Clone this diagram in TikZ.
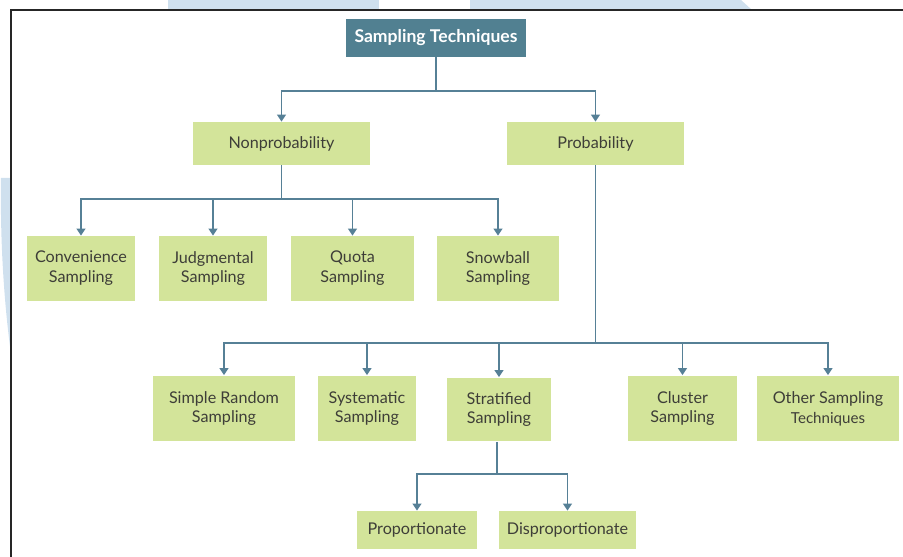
\documentclass[tikz,border=0pt]{standalone}
\usepackage{fontspec}
\setmainfont{Lato}
\usetikzlibrary{arrows.meta}
\definecolor{stteal}{RGB}{81,128,145}
\definecolor{stline}{RGB}{86,128,150}
\definecolor{stgreen}{RGB}{211,228,154}
\definecolor{sttext}{RGB}{62,62,56}
\definecolor{stwater}{RGB}{207,224,238}
\tikzset{
    basebox/.style={rectangle, inner sep=0pt, align=center, font=\fontsize{9.2}{11.3}\selectfont},
    rootbox/.style={basebox, fill=stteal, text=white, font=\fontsize{10}{12}\selectfont\bfseries},
    catbox/.style={basebox, fill=stgreen, text=sttext},
    link/.style={draw=stline, line width=0.9pt, -{Triangle[length=4pt,width=5pt]}}
}

\begin{document}
\begin{tikzpicture}[x=0.02cm, y=-0.02cm]
    \useasboundingbox (0,0) rectangle (903,557);
    % watermark and frame
    \fill[stwater] (168,0) rectangle (379,10);
    \fill[stwater] (470,0) -- (741,0) -- (752,10) -- (470,10) -- cycle;
    \fill[stwater] (1,178) -- (11,178) -- (11,354) .. controls (5,310) and (0,250) .. (1,178) -- cycle;
    \draw[line width=1.4pt, black!85] (903,10) -- (11,10) -- (11,557);

    % boxes
    \node[rootbox, minimum width=3.6cm, minimum height=0.76cm] (root) at (436,38) {Sampling Techniques};
    \node[catbox, minimum width=3.54cm, minimum height=0.86cm] (nonprob) at (281.5,143.5) {Nonprobability};
    \node[catbox, minimum width=3.54cm, minimum height=0.86cm] (prob) at (595.5,143.5) {Probability};

    \node[catbox, minimum width=2.16cm, minimum height=1.3cm] (conv) at (81,268.5) {Convenience\\Sampling};
    \node[catbox, minimum width=2.16cm, minimum height=1.3cm] (judg) at (213,268.5) {Judgmental\\Sampling};
    \node[catbox, minimum width=2.46cm, minimum height=1.3cm] (quota) at (352.5,268.5) {Quota\\Sampling};
    \node[catbox, minimum width=2.44cm, minimum height=1.3cm] (snow) at (498,268.5) {Snowball\\Sampling};

    \node[catbox, minimum width=2.84cm, minimum height=1.32cm] (simple) at (224,408.5) {Simple Random\\Sampling};
    \node[catbox, minimum width=1.96cm, minimum height=1.32cm] (syst) at (367,408.5) {Systematic\\Sampling};
    \node[catbox, minimum width=2.08cm, minimum height=1.28cm] (strat) at (499,409.5) {Stratified\\Sampling};
    \node[catbox, minimum width=2.18cm, minimum height=1.32cm] (clust) at (682.5,408.5) {Cluster\\Sampling};
    \node[catbox, minimum width=2.84cm, minimum height=1.32cm] (other) at (828,408.5) {Other Sampling\\{\fontsize{8.6}{11.3}\selectfont Techniques}};

    \node[catbox, minimum width=2.4cm, minimum height=0.76cm] (prop) at (417,530) {Proportionate};
    \node[catbox, minimum width=2.74cm, minimum height=0.76cm] (disp) at (567.5,530) {Disproportionate};

    % connectors
    \coordinate (j0) at (436,91);
    \coordinate (j1) at (281.5,199);
    \coordinate (j2) at (595.5,343);
    \coordinate (j3) at (497,474);
    \draw[stline, line width=0.9pt] (root.south) -- (j0);
    \draw[stline, line width=0.9pt] (nonprob.south) -- (j1);
    \draw[stline, line width=0.9pt] (prob.south) -- (j2);
    \draw[stline, line width=0.9pt] (j3 |- strat.south) -- (j3);
    \foreach \c in {nonprob, prob}
        \draw[link] (j0) -| (\c.north);
    \foreach \c in {conv, judg, quota, snow}
        \draw[link] (j1) -| (\c.north);
    \foreach \c in {simple, syst, strat, clust, other}
        \draw[link] (j2) -| (\c.north);
    \foreach \c in {prop, disp}
        \draw[link] (j3) -| (\c.north);
\end{tikzpicture}
\end{document}
